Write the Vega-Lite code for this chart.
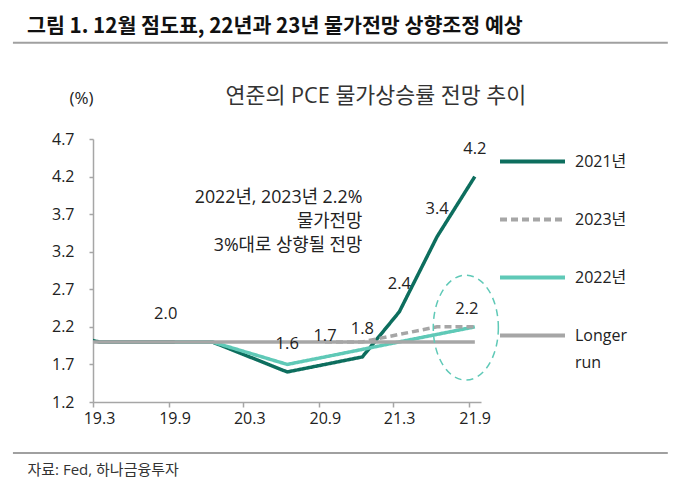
{
  "$schema": "https://vega.github.io/schema/vega-lite/v6.json",
  "width": 388,
  "height": 263,
  "autosize": {"type": "none"},
  "padding": {"left": 93, "top": 139, "right": 198, "bottom": 97},
  "background": "white",
  "config": {
    "view": {"stroke": null},
    "font": "Open Sans, Noto Sans CJK KR",
    "axis": {"grid": false, "domainColor": "#A6A6A6", "domainWidth": 1.5, "tickColor": "#A6A6A6", "tickWidth": 1.5, "labelColor": "#222222", "labelFont": "Open Sans", "labelFontSize": 16}
  },
  "title": {
    "text": "그림 1. 12월 점도표, 22년과 23년 물가전망 상향조정 예상",
    "anchor": "start", "frame": "group", "dx": -66, "offset": 4,
    "fontSize": 20.6, "fontWeight": "bold", "font": "Noto Sans CJK KR", "color": "#111111"
  },
  "data": {"values": [
    {"series": "2021년", "date": "2018-12-16", "value": 2.1},
    {"series": "2021년", "date": "2019-03-16", "value": 2.0},
    {"series": "2021년", "date": "2019-06-16", "value": 2.0},
    {"series": "2021년", "date": "2019-09-16", "value": 2.0},
    {"series": "2021년", "date": "2019-12-16", "value": 2.0},
    {"series": "2021년", "date": "2020-06-16", "value": 1.6},
    {"series": "2021년", "date": "2020-09-16", "value": 1.7},
    {"series": "2021년", "date": "2020-12-16", "value": 1.8},
    {"series": "2021년", "date": "2021-03-16", "value": 2.4},
    {"series": "2021년", "date": "2021-06-16", "value": 3.4},
    {"series": "2021년", "date": "2021-09-16", "value": 4.2},
    {"series": "2022년", "date": "2019-09-16", "value": 2.0},
    {"series": "2022년", "date": "2019-12-16", "value": 2.0},
    {"series": "2022년", "date": "2020-06-16", "value": 1.7},
    {"series": "2022년", "date": "2020-09-16", "value": 1.8},
    {"series": "2022년", "date": "2020-12-16", "value": 1.9},
    {"series": "2022년", "date": "2021-03-16", "value": 2.0},
    {"series": "2022년", "date": "2021-06-16", "value": 2.1},
    {"series": "2022년", "date": "2021-09-16", "value": 2.2},
    {"series": "2023년", "date": "2020-09-16", "value": 2.0},
    {"series": "2023년", "date": "2020-12-16", "value": 2.0},
    {"series": "2023년", "date": "2021-03-16", "value": 2.1},
    {"series": "2023년", "date": "2021-06-16", "value": 2.2},
    {"series": "2023년", "date": "2021-09-16", "value": 2.2},
    {"series": "Longer run", "date": "2018-12-16", "value": 2.0},
    {"series": "Longer run", "date": "2019-03-16", "value": 2.0},
    {"series": "Longer run", "date": "2019-06-16", "value": 2.0},
    {"series": "Longer run", "date": "2019-09-16", "value": 2.0},
    {"series": "Longer run", "date": "2019-12-16", "value": 2.0},
    {"series": "Longer run", "date": "2020-06-16", "value": 2.0},
    {"series": "Longer run", "date": "2020-09-16", "value": 2.0},
    {"series": "Longer run", "date": "2020-12-16", "value": 2.0},
    {"series": "Longer run", "date": "2021-03-16", "value": 2.0},
    {"series": "Longer run", "date": "2021-06-16", "value": 2.0},
    {"series": "Longer run", "date": "2021-09-16", "value": 2.0}
  ]},
  "layer": [
    {
      "mark": {"type": "line", "strokeWidth": 3.5, "clip": true},
      "encoding": {
        "x": {
          "field": "date", "type": "temporal",
          "scale": {"type": "utc", "domain": [{"year": 2019, "month": 3, "date": 1, "utc": true}, {"year": 2021, "month": 10, "date": 1, "utc": true}]},
          "axis": {
            "values": [
              {"year": 2019, "month": 3, "date": 1, "utc": true},
              {"year": 2019, "month": 9, "date": 1, "utc": true},
              {"year": 2020, "month": 3, "date": 1, "utc": true},
              {"year": 2020, "month": 9, "date": 1, "utc": true},
              {"year": 2021, "month": 3, "date": 1, "utc": true},
              {"year": 2021, "month": 9, "date": 1, "utc": true}
            ],
            "tickCount": 12,
            "format": "%y.%-m", "tickSize": 5, "labelPadding": 3, "labelOffset": 6, "labelFlush": false, "labelOverlap": false,
            "title": "자료: Fed, 하나금융투자", "titleX": -66, "titleY": 67, "titleAlign": "left", "titleBaseline": "middle",
            "titleFontSize": 15, "titleFontWeight": "normal", "titleColor": "#333333", "titleFont": "Open Sans, Noto Sans CJK KR"
          }
        },
        "y": {
          "field": "value", "type": "quantitative",
          "scale": {"domain": [1.2, 4.7], "nice": false, "zero": false},
          "axis": {
            "values": [1.2, 1.7, 2.2, 2.7, 3.2, 3.7, 4.2, 4.7], "tickCount": 12, "format": ".1f", "tickSize": 4, "labelPadding": 15, "labelOverlap": false, "labelFlush": false,
            "title": "(%)", "titleAngle": 0, "titleX": -12, "titleY": -41, "titleAlign": "center", "titleBaseline": "middle",
            "titleFontSize": 17, "titleFontWeight": "normal", "titleColor": "#222222", "titleFont": "Open Sans"
          }
        },
        "color": {
          "field": "series", "type": "nominal",
          "scale": {"domain": ["2021년", "2023년", "2022년", "Longer run"], "range": ["#0D6E5E", "#A6A6A6", "#5FC9B7", "#A6A6A6"]},
          "legend": {"orient": "none", "legendX": 405, "legendY": -12, "title": null, "symbolType": "stroke", "symbolSize": 4225, "symbolStrokeWidth": 4, "labelFontSize": 16, "labelColor": "#222222", "labelOffset": 8, "rowPadding": 15, "labelExpr": "datum.label === 'Longer run' ? ['Longer', 'run'] : datum.label", "encode": {"labels": {"update": {"lineHeight": {"value": 27}}}}}
        },
        "strokeDash": {
          "field": "series", "type": "nominal",
          "scale": {"domain": ["2021년", "2023년", "2022년", "Longer run"], "range": [[1, 0], [7, 4], [1, 0], [1, 0]]},
          "legend": {"orient": "none", "legendX": 405, "legendY": -12, "title": null, "symbolType": "stroke", "symbolSize": 4225, "symbolStrokeWidth": 4, "labelFontSize": 16, "labelColor": "#222222", "labelOffset": 8, "rowPadding": 15, "labelExpr": "datum.label === 'Longer run' ? ['Longer', 'run'] : datum.label", "encode": {"labels": {"update": {"lineHeight": {"value": 27}}}}}
        }
      }
    },
    {
      "transform": [{"filter": "datum.series === '2021년' && utcyear(datum.date) >= 2020"}],
      "mark": {"type": "text", "fontSize": 16.5, "color": "#222222", "baseline": "middle", "dy": -28},
      "encoding": {
        "x": {"field": "date", "type": "temporal"},
        "y": {"field": "value", "type": "quantitative"},
        "text": {"field": "value", "type": "quantitative", "format": ".1f"}
      }
    },
    {
      "transform": [{"filter": "datum.series === '2021년' && utcyear(datum.date) === 2019 && utcmonth(datum.date) === 8"}],
      "mark": {"type": "text", "fontSize": 16.5, "color": "#222222", "baseline": "middle", "dy": -28, "dx": -9},
      "encoding": {
        "x": {"field": "date", "type": "temporal"},
        "y": {"field": "value", "type": "quantitative"},
        "text": {"field": "value", "type": "quantitative", "format": ".1f"}
      }
    },
    {
      "transform": [{"filter": "datum.series === '2022년' && utcyear(datum.date) === 2021 && utcmonth(datum.date) === 8"}],
      "mark": {"type": "text", "fontSize": 16.5, "color": "#222222", "baseline": "middle", "dy": -18, "dx": -8},
      "encoding": {
        "x": {"field": "date", "type": "temporal"},
        "y": {"field": "value", "type": "quantitative"},
        "text": {"field": "value", "type": "quantitative", "format": ".1f"}
      }
    },
    {
      "data": {"values": [{}]},
      "mark": {"type": "text", "text": ["2022년, 2023년 2.2%", "물가전망", "3%대로 상향될 전망"], "align": "right", "baseline": "middle", "fontSize": 17.8, "lineHeight": 24, "color": "#222222"},
      "encoding": {
        "x": {"datum": {"year": 2020, "month": 12, "date": 16, "utc": true}, "type": "temporal"},
        "y": {"datum": 3.91, "type": "quantitative"}
      }
    },
    {
      "data": {"values": [{}]},
      "mark": {"type": "text", "text": "연준의 PCE 물가상승률 전망 추이", "align": "center", "baseline": "middle", "fontSize": 21.7, "color": "#333333"},
      "encoding": {
        "x": {"datum": {"year": 2021, "month": 1, "date": 18, "utc": true}, "type": "temporal"},
        "y": {"datum": 5.27, "type": "quantitative"}
      }
    },
    {
      "data": {"values": [{}]},
      "mark": {"type": "point", "shape": "M 0.62 0 C 0.62 0.5523 0.3424 1 0 1 C -0.3424 1 -0.62 0.5523 -0.62 0 C -0.62 -0.5523 -0.3424 -1 0 -1 C 0.3424 -1 0.62 -0.5523 0.62 0 Z", "size": 11025, "filled": false, "color": "#5FC9B7", "strokeWidth": 1.5, "strokeDash": [7, 5], "opacity": 1},
      "encoding": {
        "x": {"datum": {"year": 2021, "month": 8, "date": 25, "utc": true}, "type": "temporal"},
        "y": {"datum": 2.19, "type": "quantitative"}
      }
    },
    {
      "data": {"values": [{}]},
      "mark": {"type": "rule", "color": "#A0A0A0", "strokeWidth": 2},
      "encoding": {
        "x": {"datum": {"year": 2018, "month": 8, "date": 18, "utc": true}, "type": "temporal"},
        "x2": {"datum": {"year": 2022, "month": 12, "date": 30, "utc": true}},
        "y": {"datum": 5.98, "type": "quantitative"}
      }
    },
    {
      "data": {"values": [{}]},
      "mark": {"type": "rule", "color": "#808080", "strokeWidth": 1.5},
      "encoding": {
        "x": {"datum": {"year": 2018, "month": 8, "date": 18, "utc": true}, "type": "temporal"},
        "x2": {"datum": {"year": 2022, "month": 12, "date": 30, "utc": true}},
        "y": {"datum": 0.52, "type": "quantitative"}
      }
    }
  ]
}
